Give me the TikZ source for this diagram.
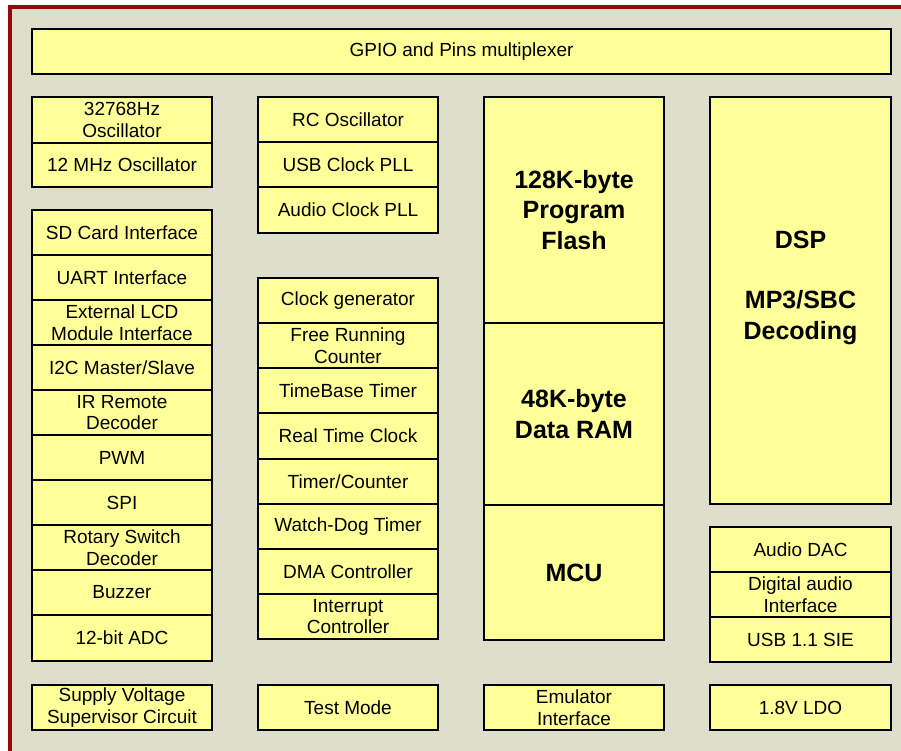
\documentclass[tikz,border=0pt]{standalone}
\usepackage{fontspec}
\setmainfont{Liberation Sans}
\usetikzlibrary{positioning}
\definecolor{framered}{HTML}{960A0A}
\definecolor{chipbg}{HTML}{DDDFCC}
\definecolor{blockfill}{HTML}{FFFF99}

\begin{document}
\begin{tikzpicture}[x=1pt, y=-1pt, node distance=0pt,
    blk/.style={draw, line width=2pt, fill=blockfill, outer sep=0pt, inner sep=1pt,
      minimum width=180pt, minimum height=45pt, align=center,
      font=\fontsize{19}{21.8}\selectfont},
    bigblk/.style={blk, font=\fontsize{25}{30.5}\selectfont\bfseries}]
  \useasboundingbox (0,0) rectangle (901,751);
  \clip (0,0) rectangle (901,751);
  % chip outline
  \draw[framered, line width=3.6pt, fill=chipbg] (9.8,6.8) rectangle (930,780);

  \node[blk, minimum width=859pt, anchor=north west] (gpio) at (32,29) {GPIO and Pins multiplexer};

  % clocks and peripherals
  \node[blk, minimum height=46pt, anchor=north west] (osc32k) at (32,97) {32768Hz\\Oscillator};
  \node[blk, minimum height=44pt, below=of osc32k] (osc12m) {12 MHz Oscillator};
  \node[blk, anchor=north west] (sdcard) at (32,210) {SD Card Interface};
  \node[blk, below=of sdcard] (uart) {UART Interface};
  \node[blk, below=of uart] (lcd) {External LCD\\Module Interface};
  \node[blk, below=of lcd] (iic) {I2C Master/Slave};
  \node[blk, below=of iic] (irrx) {IR Remote\\Decoder};
  \node[blk, below=of irrx] (pwm) {PWM};
  \node[blk, below=of pwm] (spi) {SPI};
  \node[blk, below=of spi] (rotary) {Rotary Switch\\Decoder};
  \node[blk, below=of rotary] (buzzer) {Buzzer};
  \node[blk, minimum height=46pt, below=of buzzer] (adc) {12-bit ADC};

  \node[blk, anchor=north west] (rcosc) at (258,97) {RC Oscillator};
  \node[blk, below=of rcosc] (usbpll) {USB Clock PLL};
  \node[blk, minimum height=46pt, below=of usbpll] (audpll) {Audio Clock PLL};
  \node[blk, anchor=north west] (clkgen) at (258,278) {Clock generator};
  \node[blk, below=of clkgen] (frc) {Free Running\\Counter};
  \node[blk, below=of frc] (tbt) {TimeBase Timer};
  \node[blk, minimum height=46pt, below=of tbt] (rtc) {Real Time Clock};
  \node[blk, below=of rtc] (tmr) {Timer/Counter};
  \node[blk, below=of tmr] (wdt) {Watch-Dog Timer};
  \node[blk, below=of wdt] (dma) {DMA Controller};
  \node[blk, below=of dma] (intc) {Interrupt\\Controller};

  % core
  \node[bigblk, minimum height=226pt, anchor=north west] (flash) at (484,97) {128K-byte\\Program\\Flash};
  \node[bigblk, minimum height=182pt, below=of flash] (ram) {48K-byte\\Data RAM};
  \node[bigblk, minimum height=135pt, below=of ram] (mcu) {MCU};

  \node[bigblk, minimum width=181pt, minimum height=407pt, text depth=31pt, anchor=north west] (dsp) at (710,97) {DSP\\[30pt]MP3/SBC\\Decoding};
  \node[blk, minimum width=181pt, anchor=north west] (dac) at (710,527) {Audio DAC};
  \node[blk, minimum width=181pt, below=of dac] (i2s) {Digital audio\\Interface};
  \node[blk, minimum width=181pt, below=of i2s] (usbsie) {USB 1.1 SIE};

  % bottom row
  \node[blk, anchor=north west] (svs) at (32,685) {Supply Voltage\\Supervisor Circuit};
  \node[blk, anchor=north west] (testmode) at (258,685) {Test Mode};
  \node[blk, anchor=north west] (emu) at (484,685) {Emulator\\Interface};
  \node[blk, minimum width=181pt, anchor=north west] (ldo) at (710,685) {1.8V LDO};
\end{tikzpicture}
\end{document}
